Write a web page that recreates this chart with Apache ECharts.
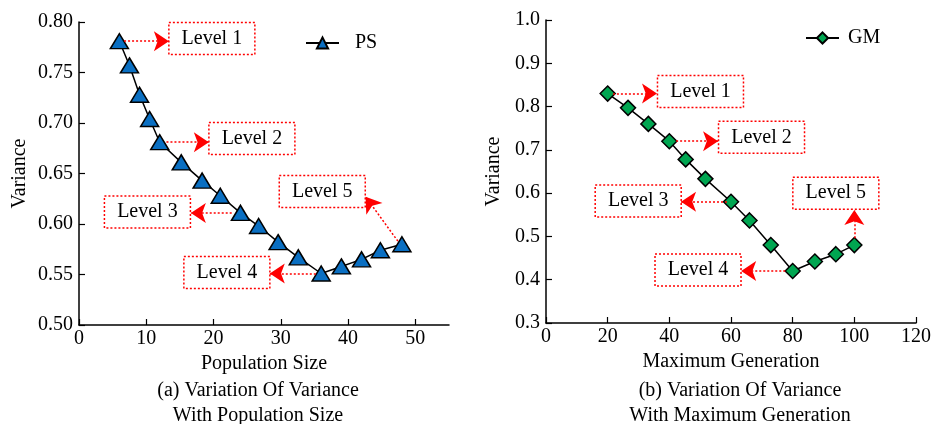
<!DOCTYPE html>
<html>
<head>
<meta charset="utf-8">
<script src="https://cdn.jsdelivr.net/npm/echarts@6/dist/echarts.min.js"></script>
<style>
  html, body { margin: 0; padding: 0; background: #ffffff; }
  #chart { width: 939px; height: 424px; }
</style>
</head>
<body>
<div id="chart"></div>
<script>
// (a) population size
const psX = [6, 7.5, 9, 10.5, 12, 15.2, 18.3, 21, 24, 26.7, 29.6, 32.6, 36, 39, 42, 44.8, 48];
const psY = [0.781, 0.757, 0.728, 0.704, 0.681, 0.661, 0.643, 0.628, 0.611, 0.598, 0.582, 0.567, 0.551, 0.558, 0.565, 0.574, 0.580];
// (b) maximum generation
const gmX = [20, 26.6, 33.2, 40, 45.3, 51.7, 60, 66, 72.9, 80, 87.2, 94, 100];
const gmY = [0.830, 0.797, 0.760, 0.720, 0.678, 0.633, 0.580, 0.537, 0.480, 0.420, 0.442, 0.459, 0.480];

const levelNames = ['Level 1', 'Level 2', 'Level 3', 'Level 4', 'Level 5'];
// box centers in data coords
const psBoxes = [[19.75, 0.7837], [25.7, 0.6847], [10.17, 0.6119], [21.98, 0.552], [36.16, 0.6322]];
const gmBoxes = [[50.1, 0.835], [69.9, 0.729], [29.9, 0.582], [49.3, 0.4225], [94.0, 0.600]];
// arrows [from, to] in data coords
const psArrows = [
  [[6.7, 0.781], [13.36, 0.781]],
  [[13.0, 0.681], [19.3, 0.681]],
  [[22.7, 0.611], [16.63, 0.611]],
  [[35.2, 0.551], [28.36, 0.551]],
  [[47.4, 0.583], [42.6, 0.627]]
];
const gmArrows = [
  [[21.7, 0.830], [36.0, 0.830]],
  [[42.2, 0.720], [55.8, 0.720]],
  [[58.7, 0.580], [43.8, 0.580]],
  [[77.6, 0.420], [63.3, 0.420]],
  [[100, 0.496], [100, 0.561]]
];

const font = "'Liberation Serif', 'DejaVu Serif', serif";
const pairs = (xs, ys) => xs.map((x, i) => [x, ys[i]]);

const boxLabel = {
  show: true,
  position: 'inside',
  formatter: '{b}',
  color: '#000',
  fontFamily: font,
  fontSize: 20,
  width: 82,
  height: 30,
  lineHeight: 30,
  align: 'center',
  verticalAlign: 'middle',
  borderColor: '#ff0000',
  borderWidth: 1.5,
  borderType: [2, 2],
  padding: [1, 2]
};

const makeMarkPoint = (boxes) => ({
  symbol: 'rect',
  symbolSize: 1,
  itemStyle: { color: 'transparent' },
  label: boxLabel,
  silent: true,
  data: boxes.map((c, i) => ({ name: levelNames[i], coord: c }))
});

const makeMarkLine = (arrows) => ({
  symbol: ['none', 'arrow'],
  symbolSize: 15,
  silent: true,
  label: { show: false },
  itemStyle: { color: '#ff0000' },
  lineStyle: { color: '#ff0000', width: 1.5, type: [2, 2] },
  data: arrows.map(a => [{ coord: a[0] }, { coord: a[1] }])
});

const axisCommon = {
  axisLine: { lineStyle: { color: '#000', width: 1.5 } },
  axisTick: { inside: true, length: 6, lineStyle: { color: '#000', width: 1.2 } },
  axisLabel: { color: '#000', fontFamily: font, fontSize: 20 },
  splitLine: { show: false },
  nameTextStyle: { color: '#000', fontFamily: font, fontSize: 20 }
};

const captionStyle = { fontFamily: font, fontSize: 20, fontWeight: 'normal', color: '#000', lineHeight: 25 };

const option = {
  animation: false,
  backgroundColor: '#ffffff',
  title: [
    {
      text: '(a) Variation Of Variance\nWith Population Size',
      left: 253, top: 373, textAlign: 'center',
      textStyle: captionStyle
    },
    {
      text: '(b) Variation Of Variance\nWith Maximum Generation',
      left: 735, top: 373, textAlign: 'center',
      textStyle: captionStyle
    }
  ],
  legend: [
    {
      data: ['PS'], left: 300, top: 28, itemWidth: 33, itemHeight: 14,
      textStyle: { fontFamily: font, fontSize: 20, color: '#000', padding: [0, 0, 0, 11] }
    },
    {
      data: ['GM'], left: 800, top: 23, itemWidth: 33, itemHeight: 14,
      textStyle: { fontFamily: font, fontSize: 20, color: '#000', padding: [0, 0, 0, 4] }
    }
  ],
  grid: [
    { left: 79, top: 22, width: 370, height: 303 },
    { left: 546, top: 20, width: 370, height: 303 }
  ],
  xAxis: [
    Object.assign({}, axisCommon, {
      gridIndex: 0, type: 'value', min: 0, max: 55, interval: 10,
      name: 'Population Size', nameLocation: 'middle', nameGap: 25,
      axisLabel: Object.assign({}, axisCommon.axisLabel, { showMaxLabel: false, margin: 4 })
    }),
    Object.assign({}, axisCommon, {
      gridIndex: 1, type: 'value', min: 0, max: 120, interval: 20,
      name: 'Maximum Generation', nameLocation: 'middle', nameGap: 29,
      axisLabel: Object.assign({}, axisCommon.axisLabel, { margin: 4 })
    })
  ],
  yAxis: [
    Object.assign({}, axisCommon, {
      gridIndex: 0, type: 'value', min: 0.5, max: 0.8, interval: 0.05,
      name: 'Variance', nameLocation: 'middle', nameGap: 49,
      axisLabel: Object.assign({}, axisCommon.axisLabel, { formatter: v => v.toFixed(2), margin: 6 })
    }),
    Object.assign({}, axisCommon, {
      gridIndex: 1, type: 'value', min: 0.3, max: 1.0, interval: 0.1,
      name: 'Variance', nameLocation: 'middle', nameGap: 42,
      axisLabel: Object.assign({}, axisCommon.axisLabel, { formatter: v => v.toFixed(1), margin: 6 })
    })
  ],
  series: [
    {
      name: 'PS',
      type: 'line',
      xAxisIndex: 0, yAxisIndex: 0,
      data: pairs(psX, psY),
      symbol: 'triangle',
      symbolSize: [18, 15],
      lineStyle: { color: '#000', width: 1.5 },
      itemStyle: { color: '#0a6fc2', borderColor: '#000', borderWidth: 1.5 },
      markPoint: makeMarkPoint(psBoxes),
      markLine: makeMarkLine(psArrows)
    },
    {
      name: 'GM',
      type: 'line',
      xAxisIndex: 1, yAxisIndex: 1,
      data: pairs(gmX, gmY),
      symbol: 'diamond',
      symbolSize: [15, 15],
      lineStyle: { color: '#000', width: 1.5 },
      itemStyle: { color: '#00a651', borderColor: '#000', borderWidth: 1.5 },
      markPoint: makeMarkPoint(gmBoxes),
      markLine: makeMarkLine(gmArrows)
    }
  ]
};

const chart = echarts.init(document.getElementById('chart'));
chart.setOption(option);
</script>
</body>
</html>
